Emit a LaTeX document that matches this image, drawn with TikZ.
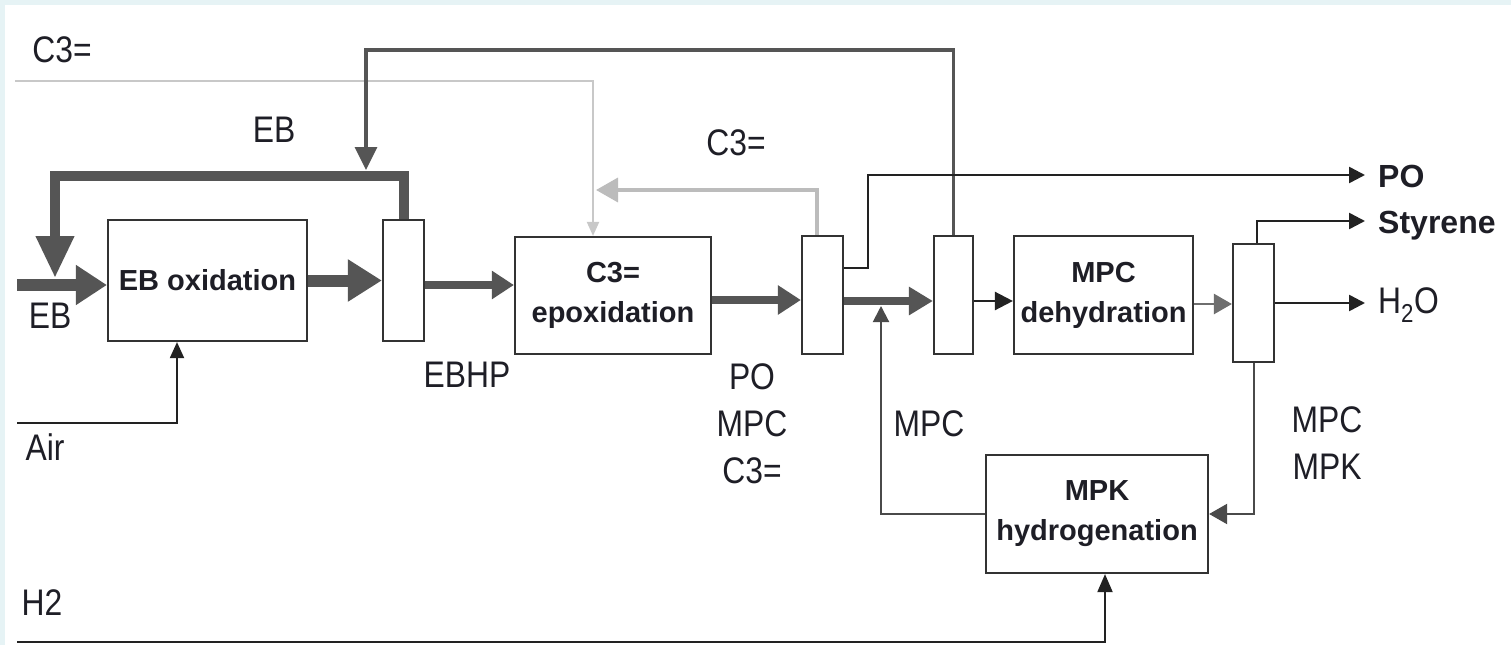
\documentclass[tikz,border=0pt]{standalone}
\usepackage{fontspec}
\setmainfont{Liberation Sans}
\newfontfamily\narrowsf[FakeStretch=0.86]{Liberation Sans}
\usetikzlibrary{arrows.meta}
\definecolor{bgc}{HTML}{E6F3F5}
\definecolor{boxc}{HTML}{333333}
\definecolor{thickc}{HTML}{555555}
\definecolor{blk}{HTML}{222222}
\definecolor{lgray}{HTML}{C8C8C8}
\definecolor{mgray}{HTML}{BCBCBC}
\definecolor{dgray}{HTML}{4A4A4A}
\definecolor{txt}{HTML}{1E1E26}
\tikzset{
  lbl/.style={font=\narrowsf\fontsize{37}{47}\selectfont, text=txt, inner sep=0pt, align=center},
  blbl/.style={font=\bfseries\fontsize{32}{40}\selectfont, text=txt, inner sep=0pt},
  procbox/.style={draw=boxc, line width=2.2pt, fill=white, inner sep=0pt, align=center,
    font=\bfseries\fontsize{29}{40}\selectfont, text=txt},
  sepbox/.style={draw=boxc, line width=2.2pt, fill=white, inner sep=0pt},
}
\begin{document}
\begin{tikzpicture}[x=1pt,y=-1pt]
\fill[bgc] (0,0) rectangle (1511,645);
\fill[white] (5,5) rectangle (1511,645);
\useasboundingbox (0,0) rectangle (1511,645);

% process units
\node[procbox, minimum width=199pt, minimum height=121pt] (ebox) at (207.5,280.5) {EB oxidation};
\node[sepbox, minimum width=41pt, minimum height=121pt] (sep1) at (403.5,280.5) {};
\node[procbox, minimum width=196pt, minimum height=117pt] (epox) at (613,295.5) {C3=\\epoxidation};
\node[sepbox, minimum width=41pt, minimum height=118pt] (sep2) at (822.5,295) {};
\node[sepbox, minimum width=39pt, minimum height=118pt] (sep3) at (953.5,295) {};
\node[procbox, minimum width=179pt, minimum height=118pt] (dehyd) at (1103.5,295) {MPC\\dehydration};
\node[sepbox, minimum width=41pt, minimum height=118pt] (sep4) at (1253.5,303) {};
\node[procbox, minimum width=222pt, minimum height=118pt] (hydro) at (1097,514) {MPK\\hydrogenation};

% free ends
\coordinate (ebin) at (17,285);
\coordinate (ebtop) at (55,176);
\coordinate (ebtip) at (55,278);
\coordinate (topl) at (366,50);
\coordinate (mixtip) at (366,170);
\coordinate (c3in) at (15,81);
\coordinate (c3rec) at (596,190);
\coordinate (po) at (1365,175);
\coordinate (sty) at (1365,221);
\coordinate (h2o) at (1365,303);
\coordinate (mpctip) at (881,306);
\coordinate (airin) at (17,423);
\coordinate (h2in) at (17,642);

% propylene feed (light)
\draw[lgray, line width=2pt, -{Triangle[length=14pt,width=12pt]}] (c3in) -| ([xshift=-20pt]epox.north);
% C3= recycle
\draw[mgray, line width=3.5pt, -{Triangle[length=22pt,width=24pt]}] ([xshift=-5.5pt]sep2.north) |- (c3rec);

% EB feed and recycle
\draw[thickc, line width=12pt, -{Triangle[length=31pt,width=38pt]}] (ebin) -- (ebin -| ebox.west);
\draw[thickc, line width=10pt, -{Triangle[length=42pt,width=36pt]}] (sep1.north) |- (ebtop) -- (ebtip);
\draw[thickc, line width=3.5pt, -{Triangle[length=23pt,width=22pt]}] (sep3.north) |- (topl) -- (mixtip);

% main train
\draw[thickc, line width=12pt, -{Triangle[length=34pt,width=40pt]}] (ebox.east) -- (sep1.west);
\coordinate (s1o) at ([yshift=-4.5pt]sep1.east);
\draw[thickc, line width=8pt, -{Triangle[length=22pt,width=27pt]}] (s1o) -- (s1o -| epox.west);
\coordinate (epo) at ([yshift=-4.5pt]epox.east);
\draw[thickc, line width=8pt, -{Triangle[length=23pt,width=28pt]}] (epo) -- (epo -| sep2.west);
\coordinate (s2o) at ([yshift=-6pt]sep2.east);
\draw[thickc, line width=8pt, -{Triangle[length=24pt,width=27pt]}] (s2o) -- (s2o -| sep3.west);
\coordinate (s2t) at ([yshift=27pt]sep2.east);
\draw[blk, line width=2.5pt, -{Triangle[length=16pt,width=16pt]}] (s2t) -- ++(24,0) |- (po);
\coordinate (s3o) at ([yshift=-6pt]sep3.east);
\draw[blk, line width=2.5pt, -{Triangle[length=18pt,width=18pt]}] (s3o) -- (s3o -| dehyd.west);
\coordinate (dho) at ([yshift=-9pt]dehyd.east);
\draw[thickc!85!white, line width=2.5pt, -{Triangle[length=18pt,width=20pt]}] (dho) -- (dho -| sep4.west);
\draw[blk, line width=2.5pt, -{Triangle[length=16pt,width=16pt]}] ([xshift=3.5pt]sep4.north) |- (sty);
\draw[blk, line width=2.5pt, -{Triangle[length=16pt,width=16pt]}] (sep4.east) -- (h2o);
\draw[dgray, line width=2pt, -{Triangle[length=18pt,width=20pt]}] (sep4.south) |- (hydro.east);
\draw[dgray, line width=2pt, -{Triangle[length=16pt,width=16pt]}] (hydro.west) -| (mpctip);
\draw[blk, line width=2pt, -{Triangle[length=16pt,width=14pt]}] (airin) -| ([xshift=-30.5pt]ebox.south);
\draw[blk, line width=2pt, -{Triangle[length=18pt,width=15pt]}] (h2in) -| ([xshift=8pt]hydro.south);

% labels
\node[lbl, anchor=base] (lc3) at (62,62) {C3=};
\node[lbl, anchor=base] (leb1) at (274,142) {EB};
\node[lbl, anchor=base] (leb2) at (50,328) {EB};
\node[lbl, anchor=base] (lair) at (45,460) {Air};
\node[lbl, anchor=base] (lebhp) at (467,387) {EBHP};
\node[lbl, anchor=base] (lc3b) at (736,155) {C3=};
\node[lbl] (lmix) at (752,424) {PO\\MPC\\C3=};
\node[lbl, anchor=base] (lmpc) at (929,436) {MPC};
\node[lbl] (lmm) at (1327,443.5) {MPC\\MPK};
\node[lbl, anchor=base] (lh2) at (42,615) {H2};
\node[lbl, anchor=base west] (lh2o) at (1378,313) {H\textsubscript{2}O};
\node[blbl, anchor=base west] (lpo) at (1378,187) {PO};
\node[blbl, anchor=base west] (lsty) at (1378,233) {Styrene};
\end{tikzpicture}
\end{document}
